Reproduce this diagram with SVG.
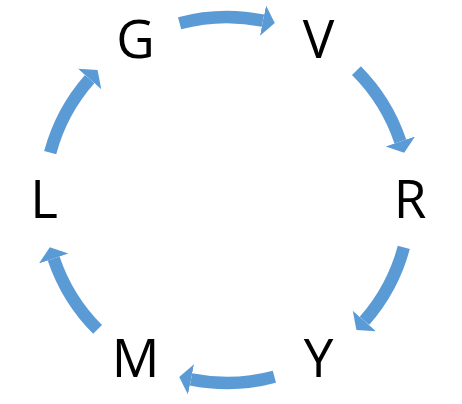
<svg xmlns="http://www.w3.org/2000/svg" width="462" height="404" viewBox="0 0 462 404">
  <defs>
    <marker id="head" markerUnits="userSpaceOnUse" markerWidth="14" markerHeight="34" viewBox="0 -17 14 34" refX="0" refY="0" orient="auto">
      <path d="M0,-15.5 L12,0 L0,15.5 Z" fill="#5B9BD5"/>
    </marker>
    <style>
      .arrow { fill: none; stroke: #5B9BD5; stroke-width: 12.5; marker-end: url(#head); }
      .lbl { font-family: "Open Sans", "Liberation Sans", sans-serif; font-size: 53px; fill: #000; text-anchor: middle; }
    </style>
  </defs>
  <rect width="462" height="404" fill="#fff"/>
  <g id="connectors">
    <path class="arrow" d="M179.6,23.2 A183,183 0 0 1 263,20.6"/>
    <path class="arrow" d="M179.6,23.2 A183,183 0 0 1 263,20.6" transform="rotate(60 227 200)"/>
    <path class="arrow" d="M179.6,23.2 A183,183 0 0 1 263,20.6" transform="rotate(120 227 200)"/>
    <path class="arrow" d="M179.6,23.2 A183,183 0 0 1 263,20.6" transform="rotate(180 227 200)"/>
    <path class="arrow" d="M179.6,23.2 A183,183 0 0 1 263,20.6" transform="rotate(240 227 200)"/>
    <path class="arrow" d="M179.6,23.2 A183,183 0 0 1 263,20.6" transform="rotate(300 227 200)"/>
  </g>
  <g id="node-G"><text class="lbl" x="135.5" y="58">G</text></g>
  <g id="node-V"><text class="lbl" x="318.5" y="58">V</text></g>
  <g id="node-R"><text class="lbl" x="410" y="218">R</text></g>
  <g id="node-Y"><text class="lbl" x="318.5" y="377">Y</text></g>
  <g id="node-M"><text class="lbl" x="135.5" y="377">M</text></g>
  <g id="node-L"><text class="lbl" x="44" y="218">L</text></g>
</svg>
